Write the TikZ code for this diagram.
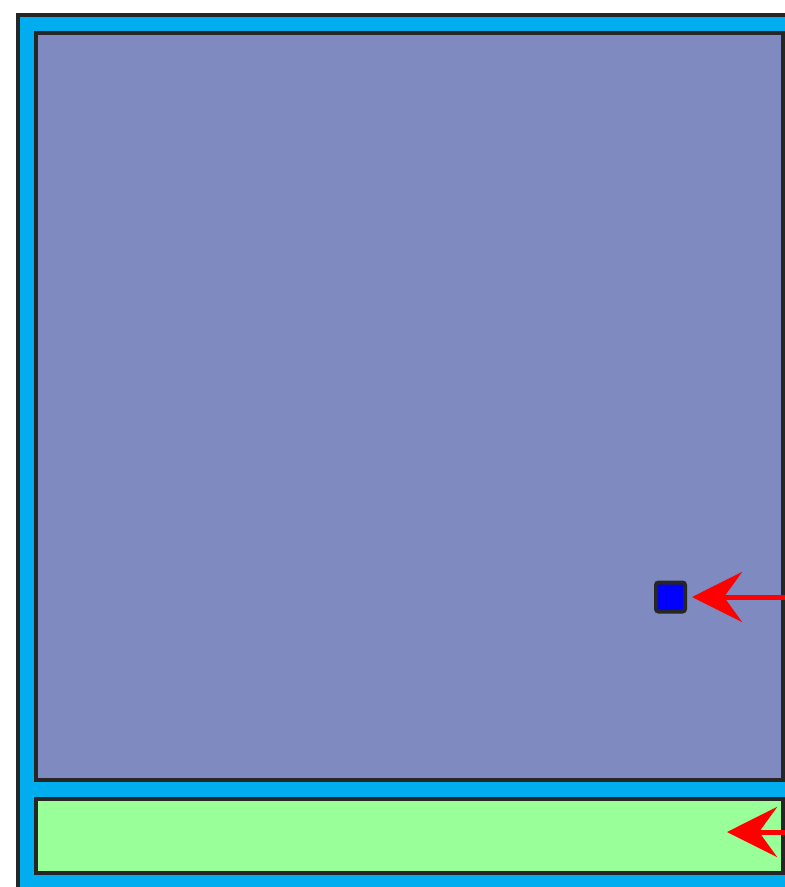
\documentclass[tikz,border=0pt]{standalone}
\usetikzlibrary{arrows.meta}
\definecolor{outercyan}{RGB}{0,174,239}
\definecolor{panelpurple}{RGB}{127,138,192}
\definecolor{panelgreen}{RGB}{153,255,153}
\definecolor{edgegray}{RGB}{38,38,38}
\tikzset{
  panel/.style={draw=edgegray, line width=4pt},
  marker/.style={draw=edgegray, fill=blue, line width=4pt, rounded corners=2.5pt, minimum size=29pt, inner sep=0pt},
  pointer/.style={draw=red, line width=5pt, -{Stealth[length=50pt,width=50pt,inset=18pt]}}
}
\begin{document}
\begin{tikzpicture}[x=1pt,y=-1pt]
\useasboundingbox (0,0) rectangle (785,887);
\clip (0,0) rectangle (785,887);
\fill[white] (0,0) rectangle (785,887);
\draw[panel, fill=outercyan] (18,15) rectangle (810,910);
\draw[panel, fill=panelpurple] (35.5,33) rectangle (783,779.5);
\draw[panel, fill=panelgreen] (35.5,799) rectangle (783,872.5);
\node[marker] (sq) at (670.5,597) {};
\coordinate (a1) at (800,597);
\coordinate (a2) at (800,832);
\coordinate (g) at (727,832);
\draw[pointer, shorten >=5pt] (a1) -- (sq.east);
\draw[pointer] (a2) -- (g);
\end{tikzpicture}
\end{document}
